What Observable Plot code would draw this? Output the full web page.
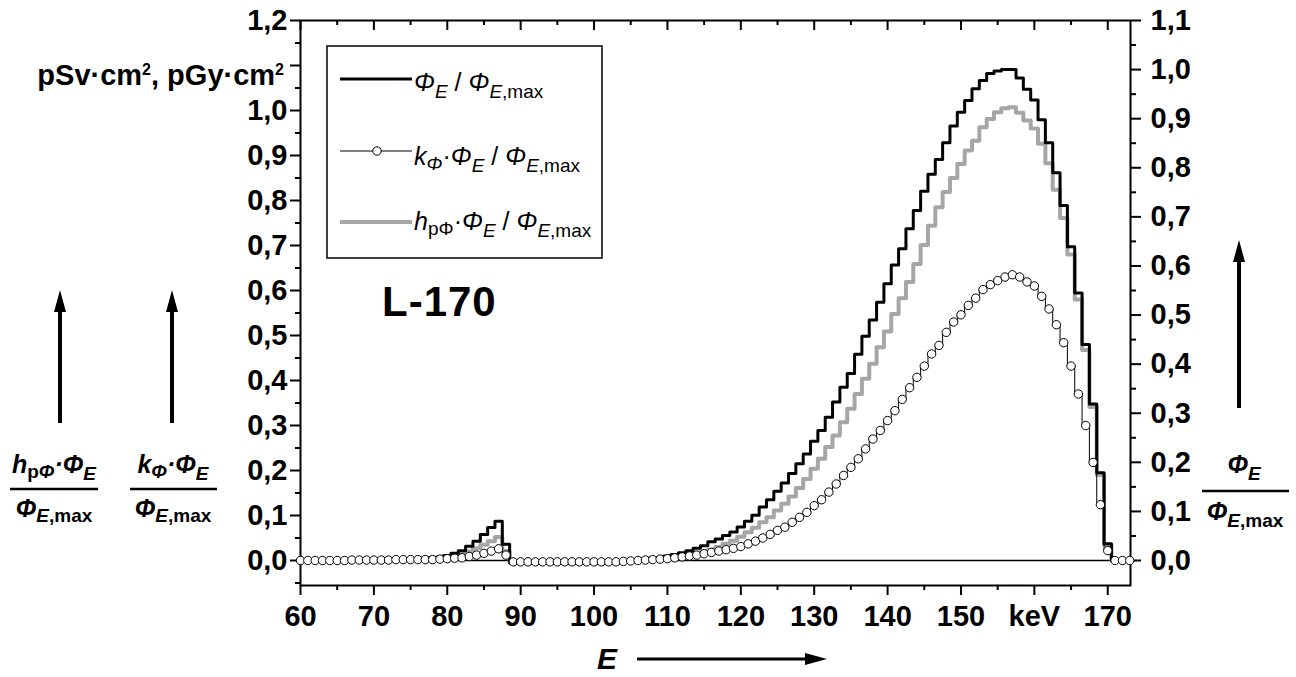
<!DOCTYPE html>
<html><head><meta charset="utf-8">
<script src="https://cdn.jsdelivr.net/npm/d3@7"></script>
<script src="https://cdn.jsdelivr.net/npm/@observablehq/plot@0.6"></script>
<style>body{margin:0;background:#fff}svg{display:block}</style>
</head><body><div id="chart"></div>
<script>
// Photon energy E (keV), 1 keV bins
const energy = [
 60,61,62,63,64,65,66,67,68,69, 70,71,72,73,74,75,76,77,78,79,
 80,81,82,83,84,85,86,87,88,89, 90,91,92,93,94,95,96,97,98,99,
 100,101,102,103,104,105,106,107,108,109, 110,111,112,113,114,115,116,117,118,119,
 120,121,122,123,124,125,126,127,128,129, 130,131,132,133,134,135,136,137,138,139,
 140,141,142,143,144,145,146,147,148,149, 150,151,152,153,154,155,156,157,158,159,
 160,161,162,163,164,165,166,167,168,169, 170,171,172,173];

// Φ_E / Φ_E,max (right axis)
const phiNorm = [
 0.001,0.001,0.001,0.001,0.001,0.001,0.002,0.002,0.002,0.002,
 0.002,0.003,0.003,0.003,0.003,0.004,0.004,0.005,0.006,0.007,
 0.010,0.015,0.020,0.029,0.039,0.053,0.067,0.080,0.033,-0.005,
 -0.005,-0.005,-0.006,-0.006,-0.006,-0.006,-0.006,-0.006,-0.006,-0.006,
 -0.006,-0.006,-0.005,-0.005,-0.004,-0.002,0.000,0.003,0.005,0.006,
 0.009,0.012,0.016,0.020,0.025,0.030,0.038,0.044,0.051,0.058,
 0.068,0.080,0.092,0.109,0.124,0.141,0.158,0.177,0.197,0.217,
 0.243,0.265,0.292,0.323,0.353,0.381,0.420,0.457,0.490,0.526,
 0.564,0.602,0.635,0.676,0.713,0.752,0.787,0.817,0.851,0.885,
 0.913,0.937,0.961,0.978,0.992,0.997,1.000,1.000,0.983,0.960,
 0.938,0.898,0.851,0.790,0.723,0.639,0.545,0.440,0.319,0.179,
 0.034,0,0,0];

// h_pΦ · Φ_E / Φ_E,max in pSv·cm² (left axis)
const hPhi = [
 0.001,0.001,0.001,0.001,0.001,0.001,0.001,0.001,0.001,0.001,
 0.001,0.002,0.002,0.002,0.002,0.003,0.003,0.003,0.004,0.005,
 0.007,0.010,0.014,0.020,0.027,0.035,0.043,0.052,0.021,-0.004,
 -0.004,-0.004,-0.004,-0.004,-0.004,-0.004,-0.004,-0.004,-0.004,-0.004,
 -0.004,-0.004,-0.004,-0.003,-0.003,-0.001,0.000,0.002,0.003,0.004,
 0.006,0.008,0.010,0.012,0.015,0.019,0.024,0.030,0.037,0.044,
 0.053,0.063,0.073,0.085,0.096,0.111,0.126,0.142,0.161,0.181,
 0.204,0.226,0.252,0.278,0.307,0.337,0.370,0.404,0.437,0.474,
 0.509,0.548,0.583,0.619,0.659,0.701,0.744,0.785,0.819,0.850,
 0.881,0.911,0.933,0.963,0.981,0.996,1.005,1.007,0.995,0.978,
 0.960,0.926,0.883,0.824,0.761,0.680,0.580,0.468,0.341,0.190,
 0.035,0,0,0];

// k_Φ · Φ_E / Φ_E,max in pGy·cm² (left axis)
const kPhi = [
 0,0,0,0,0,0,0,0.001,0.001,0.001,
 0.001,0.001,0.001,0.002,0.002,0.002,0.002,0.002,0.002,0.003,
 0.004,0.005,0.006,0.009,0.012,0.016,0.021,0.026,0.012,-0.003,
 -0.003,-0.003,-0.003,-0.003,-0.003,-0.003,-0.003,-0.003,-0.003,-0.003,
 -0.003,-0.003,-0.003,-0.003,-0.002,-0.001,0.000,0.001,0.002,0.003,
 0.004,0.006,0.008,0.010,0.012,0.015,0.018,0.021,0.024,0.027,
 0.031,0.037,0.043,0.050,0.058,0.067,0.074,0.085,0.096,0.107,
 0.122,0.135,0.152,0.170,0.189,0.207,0.226,0.248,0.270,0.289,
 0.311,0.333,0.358,0.384,0.407,0.432,0.459,0.478,0.507,0.530,
 0.546,0.567,0.583,0.602,0.613,0.622,0.630,0.635,0.630,0.619,
 0.610,0.587,0.559,0.524,0.484,0.432,0.370,0.300,0.218,0.124,
 0.022,0,0,0];

// tick values
const xMajor = [60,70,80,90,100,110,120,130,140,150,160,170];
const xMinor = [65,75,85,95,105,115,125,135,145,155,165];
const yLeftMajor = [0,0.1,0.2,0.3,0.4,0.5,0.6,0.7,0.8,0.9,1.0,1.1,1.2];
const yLeftMinor = [-0.05,0.05,0.15,0.25,0.35,0.45,0.55,0.65,0.75,0.85,0.95,1.05,1.15];
const yRightMajor = [0,0.1,0.2,0.3,0.4,0.5,0.6,0.7,0.8,0.9,1.0,1.1];
const yRightMinor = [0.05,0.15,0.25,0.35,0.45,0.55,0.65,0.75,0.85,0.95,1.05];

const R = 1.2 / 1.1; // right-axis unit expressed in left-axis units
const FONT = "'Liberation Sans', Arial, Helvetica, sans-serif";
const fmt = v => (Math.round(v * 10) / 10).toFixed(1).replace(".", ",");
// the left 1,1 position carries the unit label instead of a number
const fmtLeft = v => Math.abs(v - 1.1) < 1e-9 ? "" : fmt(v);

const rows = energy.map((e, i) => ({e, phi: phiNorm[i], h: hPhi[i], k: kPhi[i]}));
const lab = {fontSize: 29, fontWeight: "bold", fontFamily: FONT};

const plot = Plot.plot({
  width: 1296, height: 677,
  marginLeft: 300, marginRight: 166, marginTop: 20, marginBottom: 92,
  x: {domain: [60, 173.1], label: null},
  y: {domain: [-25 / 450, 1.2], label: null},
  style: {fontFamily: FONT, fontSize: "29px", color: "#000", background: "#fff", overflow: "visible"},
  marks: [
    Plot.ruleY([0], {stroke: "#000", strokeWidth: 1.5}),
    Plot.axisY(yLeftMinor, {anchor: "left", tickSize: 5, strokeWidth: 2, tickFormat: () => ""}),
    Plot.axisY(yLeftMajor, {anchor: "left", tickSize: 10, tickPadding: 3, strokeWidth: 2, tickFormat: fmtLeft, ...lab}),
    Plot.axisY(yRightMinor.map(v => v * R), {anchor: "right", tickSize: 5, strokeWidth: 2, tickFormat: () => ""}),
    Plot.axisY(yRightMajor.map(v => v * R), {anchor: "right", tickSize: 10, tickPadding: 10, strokeWidth: 2, tickFormat: d => fmt(d / R), textAnchor: "start", ...lab}),
    Plot.axisX(xMinor, {anchor: "bottom", tickSize: 5, strokeWidth: 2, tickFormat: () => ""}),
    Plot.axisX(xMajor, {anchor: "bottom", tickSize: 10, tickPadding: 10, strokeWidth: 2, tickFormat: d => d === 160 ? "keV" : String(d), ...lab}),
    Plot.tickX(xMajor, {x: d => d, insetBottom: 555, stroke: "#000", strokeWidth: 2}),
    Plot.tickX(xMinor, {x: d => d, insetBottom: 560, stroke: "#000", strokeWidth: 2}),
    Plot.frame({stroke: "#000", strokeWidth: 2}),
    Plot.line(rows, {x: "e", y: "h", curve: "step", stroke: "#a6a6a6", strokeWidth: 4}),
    Plot.line(rows, {x: "e", y: d => d.phi * R, curve: "step", stroke: "#000", strokeWidth: 3}),
    Plot.line(rows, {x: "e", y: "k", curve: "step", stroke: "#000", strokeWidth: 1}),
    Plot.dot(rows, {x: "e", y: "k", r: 4.2, fill: "#fff", stroke: "#000", strokeWidth: 1})
  ]
});
document.getElementById("chart").appendChild(plot);

// ---------- annotations ----------
const svg = d3.select(plot);
const g = svg.append("g").attr("font-family", FONT).attr("fill", "#000").attr("text-anchor", "start");

function rich(x, y, parts, {size = 25, sub = 19, anchor = "start", weight = "normal", subDy = 7} = {}) {
  const t = g.append("text").attr("x", x).attr("y", y).attr("font-size", size)
    .attr("text-anchor", anchor).attr("font-weight", weight);
  let shift = 0;
  for (const p of parts) {
    const target = p.sub ? (p.dy ?? subDy) : p.sup ? (p.dy ?? -10) : 0;
    const fs = p.sub ? sub : p.sup ? (p.size ?? 16) : size;
    t.append("tspan").attr("dy", target - shift).attr("font-size", fs)
      .attr("font-style", p.i ? "italic" : "normal").text(p.t);
    shift = target;
  }
  return t;
}
function arrowUp(x, yBottom, yTip) {
  g.append("line").attr("x1", x).attr("x2", x).attr("y1", yBottom).attr("y2", yTip + 18)
    .attr("stroke", "#000").attr("stroke-width", 4);
  g.append("path").attr("d", `M${x},${yTip}L${x - 6},${yTip + 22}L${x + 6},${yTip + 22}Z`);
}

// unit label (sits at the 1,1 position of the left axis)
rich(284, 85, [{t: "pSv·cm"}, {t: "2", sup: true}, {t: ", pGy·cm"}, {t: "2", sup: true}],
  {size: 29, weight: "bold", anchor: "end"});

// L-170
g.append("text").attr("x", 382).attr("y", 316).attr("font-size", 42).attr("font-weight", "bold")
  .attr("letter-spacing", 1).attr("text-anchor", "start").text("L-170");

// legend
g.append("rect").attr("x", 327).attr("y", 46).attr("width", 275).attr("height", 212)
  .attr("fill", "#fff").attr("stroke", "#000").attr("stroke-width", 1.5);
g.append("line").attr("x1", 340).attr("x2", 412).attr("y1", 79).attr("y2", 79).attr("stroke", "#000").attr("stroke-width", 3);
g.append("line").attr("x1", 340).attr("x2", 412).attr("y1", 151).attr("y2", 151).attr("stroke", "#000").attr("stroke-width", 1);
g.append("circle").attr("cx", 377).attr("cy", 151).attr("r", 4.2).attr("fill", "#fff").attr("stroke", "#000");
g.append("line").attr("x1", 340).attr("x2", 412).attr("y1", 222).attr("y2", 222).attr("stroke", "#a6a6a6").attr("stroke-width", 4);

const tail = [{t: " / "}, {t: "Φ", i: true}, {t: "E", i: true, sub: true}, {t: ",max", sub: true}];
rich(414, 91, [{t: "Φ", i: true}, {t: "E", i: true, sub: true}, ...tail]);
rich(414, 165, [{t: "k", i: true}, {t: "Φ", i: true, sub: true, dy: 5}, {t: "·"}, {t: "Φ", i: true}, {t: "E", i: true, sub: true}, ...tail]);
rich(414, 230, [{t: "h", i: true}, {t: "pΦ", sub: true, dy: 5}, {t: "·"}, {t: "Φ", i: true}, {t: "E", i: true, sub: true}, ...tail]);

// left annotations
arrowUp(60, 423, 290);
arrowUp(172, 423, 290);
const fr = {size: 25, sub: 19, anchor: "middle", weight: "bold"};
rich(54, 473, [{t: "h", i: true}, {t: "p", sub: true, dy: 5}, {t: "Φ", i: true, sub: true, dy: 5}, {t: "·", i: true}, {t: "Φ", i: true}, {t: "E", i: true, sub: true}], fr);
g.append("line").attr("x1", 10).attr("x2", 98).attr("y1", 489).attr("y2", 489).attr("stroke", "#000").attr("stroke-width", 2.5);
rich(54, 517, [{t: "Φ", i: true}, {t: "E", i: true, sub: true, dy: 5}, {t: ",max", sub: true, dy: 5}], fr);

rich(173, 473, [{t: "k", i: true}, {t: "Φ", i: true, sub: true, dy: 5}, {t: "·", i: true}, {t: "Φ", i: true}, {t: "E", i: true, sub: true}], fr);
g.append("line").attr("x1", 130).attr("x2", 217).attr("y1", 489).attr("y2", 489).attr("stroke", "#000").attr("stroke-width", 2.5);
rich(173, 517, [{t: "Φ", i: true}, {t: "E", i: true, sub: true, dy: 5}, {t: ",max", sub: true, dy: 5}], fr);

// right annotation
arrowUp(1239, 408, 240);
rich(1244, 473, [{t: "Φ", i: true}, {t: "E", i: true, sub: true}], fr);
g.append("line").attr("x1", 1202).attr("x2", 1289).attr("y1", 491).attr("y2", 491).attr("stroke", "#000").attr("stroke-width", 2.5);
rich(1245, 520, [{t: "Φ", i: true}, {t: "E", i: true, sub: true, dy: 7}, {t: ",max", sub: true, dy: 7}], fr);

// x-axis title
g.append("text").attr("x", 597).attr("y", 669).attr("font-size", 30).attr("font-weight", "bold")
  .attr("font-style", "italic").attr("text-anchor", "start").text("E");
g.append("line").attr("x1", 637).attr("x2", 810).attr("y1", 659).attr("y2", 659).attr("stroke", "#000").attr("stroke-width", 3);
g.append("path").attr("d", "M827,659L805,653L805,665Z");
</script></body></html>
